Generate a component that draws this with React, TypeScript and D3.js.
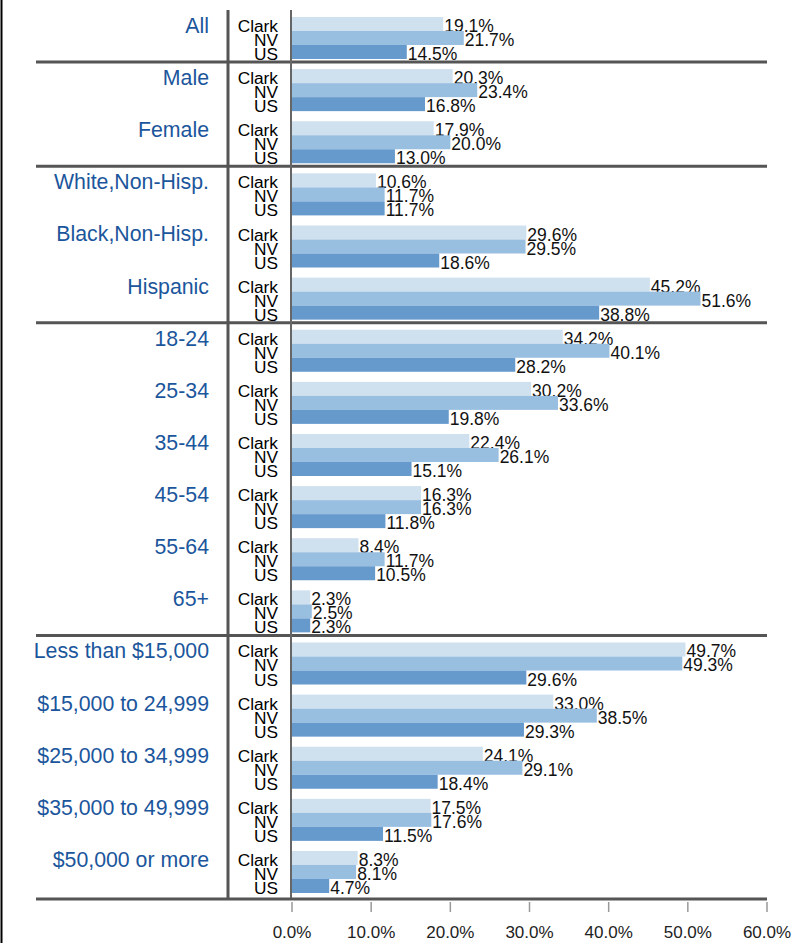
import React from "react";
import * as d3 from "d3";

const categories = [
  "All", "Male", "Female", "White,Non-Hisp.", "Black,Non-Hisp.", "Hispanic",
  "18-24", "25-34", "35-44", "45-54", "55-64", "65+",
  "Less than $15,000", "$15,000 to 24,999", "$25,000 to 34,999", "$35,000 to 49,999", "$50,000 or more",
];
const seriesNames = ["Clark", "NV", "US"];
const clark = [19.1, 20.3, 17.9, 10.6, 29.6, 45.2, 34.2, 30.2, 22.4, 16.3, 8.4, 2.3, 49.7, 33.0, 24.1, 17.5, 8.3];
const nv = [21.7, 23.4, 20.0, 11.7, 29.5, 51.6, 40.1, 33.6, 26.1, 16.3, 11.7, 2.5, 49.3, 38.5, 29.1, 17.6, 8.1];
const us = [14.5, 16.8, 13.0, 11.7, 18.6, 38.8, 28.2, 19.8, 15.1, 11.8, 10.5, 2.3, 29.6, 29.3, 18.4, 11.5, 4.7];
const separatorsAfter = [0, 2, 5, 11];
const tickValues = [0, 10, 20, 30, 40, 50, 60];

const seriesValues = [clark, nv, us];
const colors = ["#cfe0ef", "#98bee0", "#6699cc"];
const FONT = "'Liberation Sans', Arial, Helvetica, sans-serif";

export default function App() {
  const W = 792, H = 943;
  const x = d3.scaleLinear().domain([0, 60]).range([292, 767]);
  const y = d3.scaleBand<string>().domain(categories).range([17, 893]).paddingInner(0.194).paddingOuter(0);
  const ys = d3.scaleBand<string>().domain(seriesNames).range([0, y.bandwidth()]);
  const axisY = 899;
  const fmt = (v: number) => v.toFixed(1) + "%";

  return (
    <svg width={W} height={H} style={{ position: "absolute", left: 0, top: 0, background: "#fff" }}>
      <rect x={0} y={0} width={W} height={H} fill="#fff" />
      <line x1={1.5} x2={1.5} y1={0} y2={H} stroke="#000" strokeWidth={2} />
      {categories.map((c, i) => {
        const gy = y(c)!;
        return (
          <g key={c}>
            <text x={209} y={gy + 16} textAnchor="end" fontFamily={FONT} fontSize={21.3} fill="#1b569c">{c}</text>
            {seriesNames.map((s, j) => {
              const v = seriesValues[j][i];
              const by = gy + ys(s)!;
              const bh = ys.bandwidth();
              return (
                <g key={s}>
                  <rect x={x(0)} y={by} width={x(v) - x(0)} height={bh} fill={colors[j]} />
                  <text x={278} y={by + bh + 1} textAnchor="end" fontFamily={FONT} fontSize={17.3} fill="#000">{s}</text>
                  <text x={x(v) + 1} y={by + bh + 1} fontFamily={FONT} fontSize={17.5} fill="#111">{fmt(v)}</text>
                </g>
              );
            })}
          </g>
        );
      })}
      {separatorsAfter.map((i) => {
        const sy = y(categories[i])! + y.bandwidth() + 3;
        return <line key={i} x1={36} x2={767} y1={sy} y2={sy} stroke="#555" strokeWidth={3} />;
      })}
      <line x1={228} x2={228} y1={10} y2={axisY} stroke="#555" strokeWidth={3} />
      <line x1={291} x2={291} y1={10} y2={axisY} stroke="#666" strokeWidth={2} />
      <line x1={36} x2={767} y1={axisY} y2={axisY} stroke="#555" strokeWidth={3} />
      {tickValues.map((t) => (
        <g key={t}>
          <line x1={x(t)} x2={x(t)} y1={902} y2={912} stroke="#999" strokeWidth={1.5} />
          <text x={x(t)} y={938} textAnchor="middle" fontFamily={FONT} fontSize={17} fill="#222">{t.toFixed(1) + "%"}</text>
        </g>
      ))}
    </svg>
  );
}
